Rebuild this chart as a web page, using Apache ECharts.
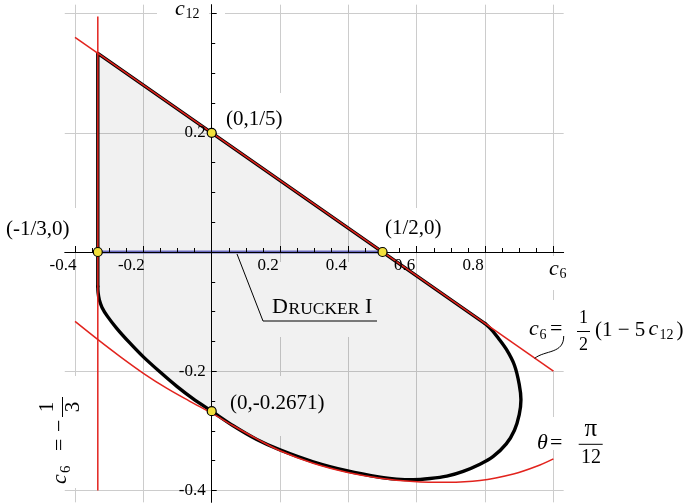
<!DOCTYPE html>
<html>
<head>
<meta charset="utf-8">
<script src="https://cdn.jsdelivr.net/npm/echarts@6/dist/echarts.min.js"></script>
<style>
  html, body { margin: 0; padding: 0; background: #ffffff; }
  #chart { width: 684px; height: 503px; }
</style>
</head>
<body>
<div id="chart"></div>
<script>
// Admissible (convex) domain of the coefficients c6, c12

// straight part of the boundary: c6 = -1/3 and c6 = (1 - 5 c12) / 2
const regionStraight = [[-0.3333, -0.058], [-0.3333, 0.3333], [0.8, -0.12]];
// curved part of the boundary, from the tangency point round to c6 = -1/3
const regionCurve = [
  [0.8, -0.12], [0.82, -0.131], [0.838, -0.144], [0.863, -0.164], [0.886, -0.19],
  [0.9, -0.222], [0.905, -0.248], [0.9, -0.273], [0.886, -0.299], [0.862, -0.322],
  [0.824, -0.343], [0.785, -0.356], [0.736, -0.368], [0.688, -0.376], [0.639, -0.38],
  [0.59, -0.382], [0.541, -0.381], [0.493, -0.378], [0.395, -0.367], [0.297, -0.352],
  [0.2, -0.332], [0.132, -0.3145], [0.063, -0.2915], [0, -0.2671], [-0.054, -0.2465],
  [-0.102, -0.2255], [-0.151, -0.2015], [-0.2, -0.176], [-0.239, -0.153], [-0.278, -0.128],
  [-0.305, -0.108], [-0.321, -0.093], [-0.329, -0.08], [-0.3325, -0.068], [-0.3333, -0.058]
];
// tangent curve theta = pi/12
const thetaCurve = [
  [-0.4, -0.1165], [-0.332, -0.1475], [-0.268, -0.1755], [-0.2, -0.2035], [-0.132, -0.2285],
  [-0.064, -0.2505], [0, -0.2705], [0.063, -0.2915], [0.132, -0.3135], [0.2, -0.3335],
  [0.297, -0.3545], [0.395, -0.3695], [0.493, -0.3795], [0.59, -0.385], [0.688, -0.3865],
  [0.785, -0.3835], [0.883, -0.3725], [0.951, -0.3595], [1.0, -0.347]
];
// c6 = (1 - 5 c12) / 2
const tangentLine = [[-0.4, 0.36], [1.0, -0.2]];
// c6 = -1/3
const verticalLine = [[-0.3333, 0.395], [-0.3333, -0.4]];
// Drucker I segment on c12 = 0
const druckerSegment = [[-0.3333, 0], [0.5, 0]];
// marked points
const markedPoints = [[-0.3333, 0], [0, 0.2], [0.5, 0], [0, -0.2671]];

const xTickLabels = [-0.4, -0.2, 0.2, 0.4, 0.6, 0.8];
const yTickLabels = [-0.4, -0.2, 0.2];

const SERIF = '"Liberation Serif", "Times New Roman", serif';

// axis scale: origin pixel and pixels per unit
const X0 = 211.7, Y0 = 252, SX = 341.7, SY = 596;
function gridBox(xr, yr) {
  return {
    left: X0 + xr[0] * SX, top: Y0 - yr[1] * SY,
    width: (xr[1] - xr[0]) * SX, height: (yr[1] - yr[0]) * SY,
    outerBoundsMode: 'none', containLabel: false
  };
}
// grid 0 carries the c6 ticks (its bottom edge is c12 = 0),
// grid 1 carries the c12 ticks (its left edge is c6 = 0),
// grid 2 holds the gridlines, the crossing axis lines and the data
const c6Range = [-0.4, 1.0], c12Range = [-0.4, 0.4];
const outerX = [-0.43, 1.03], outerY = [-0.42, 0.415];

function round2(v) { return Math.round(v * 100) / 100; }
const gridValues = [];
for (let v = -0.4; v <= 1.0001; v += 0.2) gridValues.push(round2(v));
const gridValuesY = [];
for (let v = -0.4; v <= 0.4001; v += 0.2) gridValuesY.push(round2(v));

const chart = echarts.init(document.getElementById('chart'), null, { renderer: 'canvas' });

const labelFont = { fontFamily: SERIF, fontSize: 17, color: '#000' };
const black = { color: '#000', width: 1 };

function txt(text, x, y, size, opts) {
  opts = opts || {};
  return {
    type: 'text', z: 20, silent: true,
    style: {
      text: text, x: x, y: y,
      font: (opts.italic ? 'italic ' : '') + size + 'px ' + SERIF,
      fill: '#000', textAlign: opts.align || 'left', textVerticalAlign: 'middle'
    }
  };
}
function cover(x, y, w, h) {
  return { type: 'rect', z: 1, silent: true, shape: { x: x, y: y, width: w, height: h }, style: { fill: '#ffffff' } };
}
function seg(x1, y1, x2, y2, w) {
  return { type: 'line', z: 20, silent: true, shape: { x1: x1, y1: y1, x2: x2, y2: y2 }, style: { stroke: '#000', lineWidth: w || 1 } };
}

const option = {
  animation: false,
  backgroundColor: '#ffffff',
  grid: [
    gridBox(c6Range, [0, c12Range[1]]),
    gridBox([0, c6Range[1]], c12Range),
    gridBox(outerX, outerY)
  ],
  xAxis: [
    {
      type: 'value', gridIndex: 0, position: 'bottom', min: c6Range[0], max: c6Range[1], interval: 0.2, z: 5,
      axisLine: { show: true, onZero: false, lineStyle: black },
      axisTick: { show: true, inside: true, length: 6, lineStyle: black },
      minorTick: { show: true, splitNumber: 4, length: 4, lineStyle: black },
      splitLine: { show: false },
      axisLabel: Object.assign({
        margin: 5, padding: [0, 24, 0, 0],
        formatter: v => xTickLabels.indexOf(round2(v)) >= 0 ? String(round2(v)) : ''
      }, labelFont)
    },
    { type: 'value', gridIndex: 1, min: 0, max: c6Range[1], show: false },
    {
      type: 'value', gridIndex: 2, min: outerX[0], max: outerX[1], z: 0,
      axisLine: { show: true, onZero: true, lineStyle: black },
      axisTick: { show: false, customValues: gridValues },
      axisLabel: { show: false, customValues: gridValues },
      splitLine: { show: true, lineStyle: { color: '#cccccc', width: 1 } }
    }
  ],
  yAxis: [
    { type: 'value', gridIndex: 0, min: 0, max: c12Range[1], show: false },
    {
      type: 'value', gridIndex: 1, position: 'left', min: c12Range[0], max: c12Range[1], interval: 0.2, z: 5,
      axisLine: { show: true, onZero: false, lineStyle: black },
      axisTick: { show: true, inside: true, length: 5, lineStyle: black },
      minorTick: { show: true, splitNumber: 4, length: 3.5, lineStyle: black },
      splitLine: { show: false },
      axisLabel: Object.assign({
        margin: 6,
        formatter: v => yTickLabels.indexOf(round2(v)) >= 0 ? String(round2(v)) : ''
      }, labelFont)
    },
    {
      type: 'value', gridIndex: 2, min: outerY[0], max: outerY[1], z: 0,
      axisLine: { show: true, onZero: true, lineStyle: black },
      axisTick: { show: false, customValues: gridValuesY },
      axisLabel: { show: false, customValues: gridValuesY },
      splitLine: { show: true, lineStyle: { color: '#cccccc', width: 1 } }
    }
  ],
  series: [
    {
      name: 'domain', type: 'custom', xAxisIndex: 2, yAxisIndex: 2, z: 2, silent: true, clip: false,
      data: [[0, 0]],
      renderItem: function (params, api) {
        const pts = regionStraight.concat(regionCurve.slice(1)).map(p => api.coord(p));
        return { type: 'polygon', shape: { points: pts }, style: { fill: 'rgba(0,0,0,0.055)', stroke: null } };
      }
    },
    {
      name: 'boundary straight', type: 'line', xAxisIndex: 2, yAxisIndex: 2, z: 3, silent: true,
      data: regionStraight, symbol: 'none', smooth: false,
      lineStyle: { color: '#000', width: 3.4, cap: 'round', join: 'round' }
    },
    {
      name: 'boundary curve', type: 'line', xAxisIndex: 2, yAxisIndex: 2, z: 3, silent: true,
      data: regionCurve, symbol: 'none', smooth: 0.3,
      lineStyle: { color: '#000', width: 3.4, cap: 'round', join: 'round' }
    },
    {
      name: 'theta', type: 'line', xAxisIndex: 2, yAxisIndex: 2, z: 4, silent: true,
      data: thetaCurve, symbol: 'none', smooth: 0.35,
      lineStyle: { color: '#e2231d', width: 1.5 }
    },
    {
      name: 'tangent', type: 'line', xAxisIndex: 2, yAxisIndex: 2, z: 4, silent: true,
      data: tangentLine, symbol: 'none',
      lineStyle: { color: '#e2231d', width: 1.5 }
    },
    {
      name: 'vertical', type: 'line', xAxisIndex: 2, yAxisIndex: 2, z: 4, silent: true,
      data: verticalLine, symbol: 'none',
      lineStyle: { color: '#e2231d', width: 1.5 }
    },
    {
      name: 'Drucker I', type: 'line', xAxisIndex: 2, yAxisIndex: 2, z: 4, silent: true,
      data: druckerSegment, symbol: 'none',
      lineStyle: { color: '#6a6ac0', width: 3 }
    },
    {
      name: 'points', type: 'scatter', xAxisIndex: 2, yAxisIndex: 2, z: 8, silent: true,
      data: markedPoints, symbol: 'circle', symbolSize: 9,
      itemStyle: { color: '#f2e03c', borderColor: '#000', borderWidth: 1.2, opacity: 1 }
    }
  ],
  graphic: [
    // backgrounds behind the annotations
    cover(157, 4, 52, 20), cover(214, 4, 11, 20),
    cover(2, 208, 92, 40),
    cover(222, 93, 68, 38),
    cover(380, 208, 70, 41),
    cover(262, 262, 119, 75),
    cover(222, 376, 116, 60),
    cover(546, 256, 25, 34),
    cover(527, 300, 157, 70),
    cover(533, 417, 77, 33),
    cover(33, 376, 59, 112),

    // axis names
    txt('c', 175, 9.3, 22, { italic: true }), txt('12', 185.5, 13.9, 14),
    txt('c', 549, 269.3, 22, { italic: true }), txt('6', 559.5, 274.3, 14),

    // point labels
    txt('(0,1/5)', 226, 119, 21),
    txt('(-1/3,0)', 6, 229, 21),
    txt('(1/2,0)', 385, 228, 21),
    txt('(0,-0.2671)', 230, 403, 21),

    // Drucker I label with leader
    txt('D', 272, 307.6, 22), txt('RUCKER', 288.5, 309.3, 17.5), txt('I', 365, 307.6, 22),
    seg(237, 254, 263, 321), seg(263, 321, 377, 321),

    // c6 = 1/2 (1 - 5 c12)
    txt('c', 529, 329.6, 22, { italic: true }), txt('6', 539.5, 335.3, 14), txt('=', 550, 329.6, 22),
    txt('1', 583.5, 317.9, 18, { align: 'center' }), seg(577, 331.5, 590, 331.5),
    txt('2', 583.5, 345.6, 18, { align: 'center' }),
    txt('(1 \u2212 5', 595, 330, 21), txt('c', 648.5, 329.6, 22, { italic: true }),
    txt('12', 659.5, 335.3, 14), txt(')', 676.5, 330, 21),
    {
      type: 'bezierCurve', z: 20, silent: true,
      shape: { x1: 534.7, y1: 358.3, cpx1: 545, cpy1: 350, cpx2: 564, cpy2: 354, x2: 563.7, y2: 336 },
      style: { stroke: '#000', lineWidth: 1, fill: null }
    },

    // theta = pi/12
    txt('\u03b8', 537, 443, 22, { italic: true }), txt('=', 550, 443, 22),
    txt('\u03c0', 590.7, 429.5, 25, { align: 'center' }), seg(578.7, 444.3, 602.7, 444.3),
    txt('12', 591, 458.2, 20, { align: 'center' }),

    // c6 = -1/3, written upwards
    {
      type: 'group', x: 68, y: 484, rotation: Math.PI / 2, z: 20, silent: true,
      children: [
        txt('c', 0, -7.4, 22, { italic: true }), txt('6', 11, -2.1, 15),
        txt('=', 33, -7.4, 22), txt('\u2212', 52, -7.4, 22),
        seg(67, -5.5, 87, -5.5),
        txt('1', 77, -20.4, 21, { align: 'center' }), txt('3', 77, 5, 21, { align: 'center' })
      ]
    }
  ]
};
chart.setOption(option);
</script>
</body>
</html>
